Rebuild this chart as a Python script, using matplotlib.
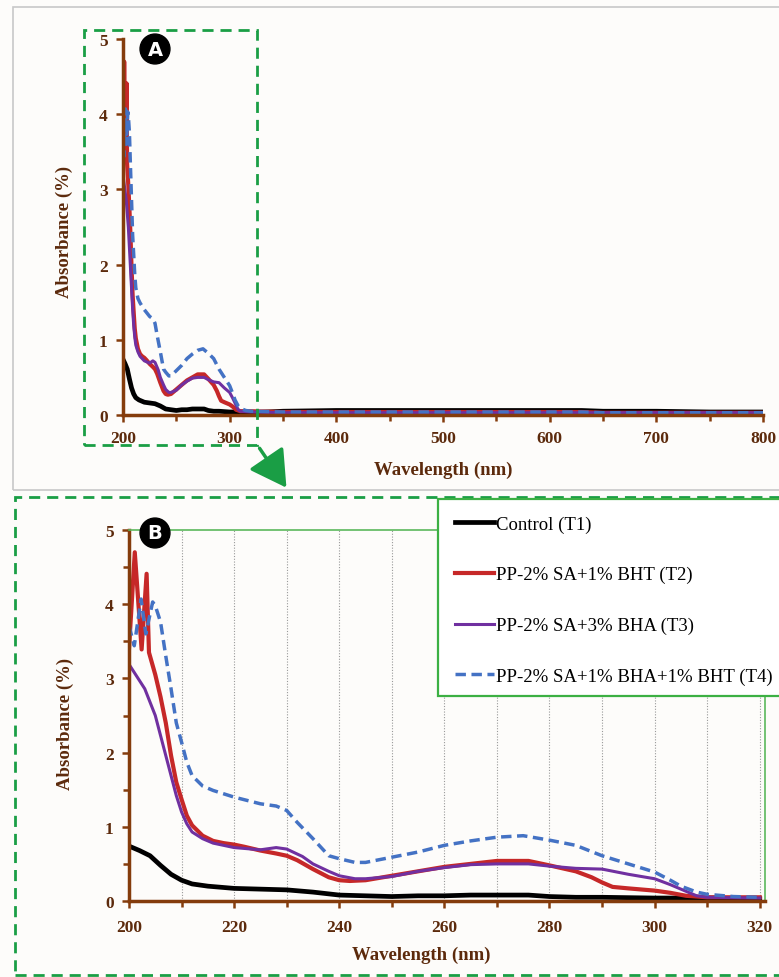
import numpy as np
import matplotlib
matplotlib.use("Agg")
import matplotlib.pyplot as plt
from matplotlib.patches import Rectangle, FancyArrowPatch

# ---------------- data ----------------
labels = ["Control (T1)", "PP-2% SA+1% BHT (T2)", "PP-2% SA+3% BHA (T3)",
          "PP-2% SA+1% BHA+1% BHT (T4)"]

t1_wl = [200, 202, 204, 206, 208, 210, 212, 215, 220, 225, 230, 235, 240, 245,
         250, 255, 260, 265, 270, 276, 280, 285, 290, 300, 310, 320]
t1_ab = [0.74, 0.68, 0.61, 0.48, 0.36, 0.28, 0.23, 0.20, 0.17, 0.16, 0.15, 0.12,
         0.08, 0.07, 0.06, 0.07, 0.07, 0.08, 0.08, 0.08, 0.06, 0.05, 0.05, 0.04,
         0.04, 0.03]

t2_wl = [200, 201.1, 202.4, 203.35, 203.8, 205, 206, 207, 208, 209, 210, 211,
         212, 214, 216, 218, 220, 222, 225, 228, 230, 232, 235, 238, 240, 242,
         245, 250, 255, 260, 265, 270, 276, 280, 285, 288, 290, 292, 295, 300,
         303, 306, 310, 320]
t2_ab = [3.40, 4.70, 3.39, 4.41, 3.35, 3.05, 2.75, 2.40, 1.96, 1.60, 1.37, 1.15,
         1.02, 0.88, 0.81, 0.78, 0.76, 0.73, 0.68, 0.64, 0.61, 0.55, 0.43, 0.32,
         0.28, 0.27, 0.28, 0.34, 0.40, 0.46, 0.50, 0.54, 0.54, 0.48, 0.40, 0.32,
         0.25, 0.19, 0.17, 0.14, 0.11, 0.07, 0.05, 0.05]

t3_wl = [200, 203, 205, 207, 208, 209, 210, 211, 212, 214, 216, 220, 225, 228,
         230, 233, 235, 238, 240, 243, 245, 250, 255, 260, 265, 270, 276, 280,
         285, 290, 295, 300, 303, 305, 308, 310, 320]
t3_ab = [3.19, 2.86, 2.50, 1.96, 1.69, 1.42, 1.20, 1.04, 0.93, 0.84, 0.78, 0.72,
         0.69, 0.72, 0.70, 0.60, 0.50, 0.40, 0.34, 0.30, 0.30, 0.33, 0.40, 0.45,
         0.49, 0.50, 0.50, 0.47, 0.44, 0.43, 0.36, 0.30, 0.22, 0.16, 0.07, 0.05,
         0.04]

t4_wl = [200, 201, 202.3, 203.2, 204.5, 205, 206, 207, 208, 209, 210, 211, 212,
         214, 216, 220, 225, 228, 230, 232, 235, 238, 240, 243, 245, 250, 255,
         260, 265, 270, 275, 280, 285, 290, 295, 300, 303, 305, 308, 310, 315, 320]
t4_ab = [3.71, 3.44, 4.07, 3.60, 4.03, 3.98, 3.76, 3.30, 2.86, 2.40, 2.14, 1.87,
         1.69, 1.55, 1.49, 1.40, 1.31, 1.28, 1.22, 1.06, 0.84, 0.61, 0.57, 0.52,
         0.52, 0.59, 0.66, 0.75, 0.81, 0.86, 0.88, 0.82, 0.75, 0.61, 0.50, 0.39,
         0.28, 0.20, 0.12, 0.09, 0.06, 0.05]

# long-wavelength tails (panel A only)
tail_wl = [350, 400, 450, 500, 550, 600, 630, 650, 700, 750, 800]
t1_tail = [0.05, 0.06, 0.06, 0.06, 0.06, 0.06, 0.06, 0.05, 0.05, 0.04, 0.04]
t2_tail = [0.04, 0.04, 0.04, 0.04, 0.04, 0.04, 0.04, 0.03, 0.03, 0.03, 0.03]
t3_tail = [0.03, 0.03, 0.03, 0.03, 0.03, 0.03, 0.03, 0.03, 0.03, 0.03, 0.03]
t4_tail = [0.04, 0.04, 0.04, 0.04, 0.04, 0.04, 0.04, 0.03, 0.03, 0.03, 0.03]

colors = ["#000000", "#c62828", "#7030a0", "#4472c4"]
widths = [3.4, 3.0, 2.2, 2.5]
styles = ["-", "-", "-", (0, (3, 1.6))]

series = [(t1_wl, t1_ab, t1_tail), (t2_wl, t2_ab, t2_tail),
          (t3_wl, t3_ab, t3_tail), (t4_wl, t4_ab, t4_tail)]

# ---------------- style ----------------
W, H = 779, 978
BROWN = "#843c0c"
TXT = "#5c2a0c"
GREEN = "#1a9e45"
SERIF = ["Liberation Serif", "DejaVu Serif"]

def px(x, y):
    return (x / W, 1 - y / H)

fig = plt.figure(figsize=(W / 100, H / 100), dpi=100)
fig.patch.set_facecolor("#fdfcfa")

def style_axes(ax):
    ax.set_facecolor("none")
    for s in ("left", "bottom"):
        ax.spines[s].set_color(BROWN)
        ax.spines[s].set_linewidth(2.5)
    ax.tick_params(which="both", colors=BROWN, width=1.8, direction="out")
    ax.tick_params(which="major", length=5)
    ax.tick_params(which="minor", length=4)
    for lab in ax.get_xticklabels() + ax.get_yticklabels():
        lab.set_fontfamily(SERIF)
        lab.set_fontweight("bold")
        lab.set_fontsize(12.5)
        lab.set_color(TXT)

# ---------------- panel A ----------------
axA = fig.add_axes([123 / W, 1 - 416 / H, (763 - 123) / W, (416 - 40) / H])
for (wl, ab, tail), c, lw, ls in zip(series, colors, widths, styles):
    axA.plot(list(wl) + tail_wl, list(ab) + tail, color=c, lw=lw, ls=ls)
axA.set_xlim(200, 800)
axA.set_ylim(0, 5)
axA.set_xticks(np.arange(200, 801, 100))
axA.set_xticks(np.arange(200, 801, 50), minor=True)
axA.set_yticks(np.arange(0, 6, 1))
axA.spines["top"].set_visible(False)
axA.spines["right"].set_visible(False)
style_axes(axA)
axA.tick_params(axis="x", pad=6)
axA.tick_params(axis="y", pad=6)

# ---------------- panel B ----------------
axB = fig.add_axes([129 / W, 1 - 902 / H, (765 - 129) / W, (902 - 531) / H])
handles = []
for (wl, ab, tail), c, lw, ls, lab in zip(series, colors, widths, styles, labels):
    h, = axB.plot(wl, ab, color=c, lw=lw, ls=ls, label=lab)
    handles.append(h)
axB.set_xlim(200, 321)
axB.set_ylim(0, 5)
axB.set_xticks(np.arange(200, 321, 20))
axB.set_xticks(np.arange(200, 321, 10), minor=True)
axB.set_yticks(np.arange(0, 6, 1))
axB.set_yticks(np.arange(0, 5.1, 0.5), minor=True)
axB.grid(axis="x", which="both", color="#999999", ls=(0, (1, 1.5)), lw=0.8)
axB.set_axisbelow(True)
for s in ("top", "right"):
    axB.spines[s].set_color("#5cb85c")
    axB.spines[s].set_linewidth(1.2)
style_axes(axB)
axB.tick_params(axis="x", pad=8)
axB.tick_params(axis="y", pad=6)

# ---------------- labels ----------------
for (xc, yc) in [(443, 470), (421, 955)]:
    fig.text(*px(xc, yc), "Wavelength (nm)", ha="center", va="center",
             fontfamily=SERIF, fontweight="bold", fontsize=13.5, color=TXT)
for (xc, yc) in [(64, 232), (65, 724)]:
    fig.text(*px(xc, yc), "Absorbance (%)", ha="center", va="center",
             rotation=90, fontfamily=SERIF, fontweight="bold", fontsize=13.5,
             color=TXT)

for (xc, yc, t) in [(155, 50, "A"), (155, 534, "B")]:
    fig.text(*px(xc, yc), t, ha="center", va="center", color="white",
             fontweight="bold", fontsize=14, fontfamily="DejaVu Sans",
             bbox=dict(boxstyle="circle,pad=0.28", fc="black", ec="black"),
             zorder=10)

# ---------------- frames / arrow ----------------
def rect(x0, y0, x1, y1, **kw):
    r = Rectangle(px(x0, y1), (x1 - x0) / W, (y1 - y0) / H,
                  transform=fig.transFigure, **kw)
    fig.add_artist(r)
    return r

rect(13, 8, 790, 491, fill=False, ec="#c8c8c8", lw=1.2)
rect(84, 31, 257, 446, fill=False, ec=GREEN, lw=2, ls=(0, (4, 2.5)))
rect(15, 498, 790, 976, fill=False, ec=GREEN, lw=2, ls=(0, (4, 2.5)))
rect(438, 500, 795, 697, fc="white", ec="#3cb043", lw=1.6, zorder=5)

arr = FancyArrowPatch(px(258, 447), px(288, 491), transform=fig.transFigure,
                      arrowstyle="-|>,head_length=14,head_width=8",
                      color=GREEN, lw=2.5, mutation_scale=1.6)
fig.add_artist(arr)

leg = fig.legend(handles=handles, labels=labels, loc="upper left",
                 bbox_to_anchor=px(447, 509), bbox_transform=fig.transFigure,
                 frameon=False, handlelength=2.1, handletextpad=0.1,
                 labelspacing=1.78, borderaxespad=0,
                 prop=dict(family=SERIF, size=13.5))
leg.set_zorder(6)

fig.savefig("out.png", dpi=100, facecolor=fig.get_facecolor())
